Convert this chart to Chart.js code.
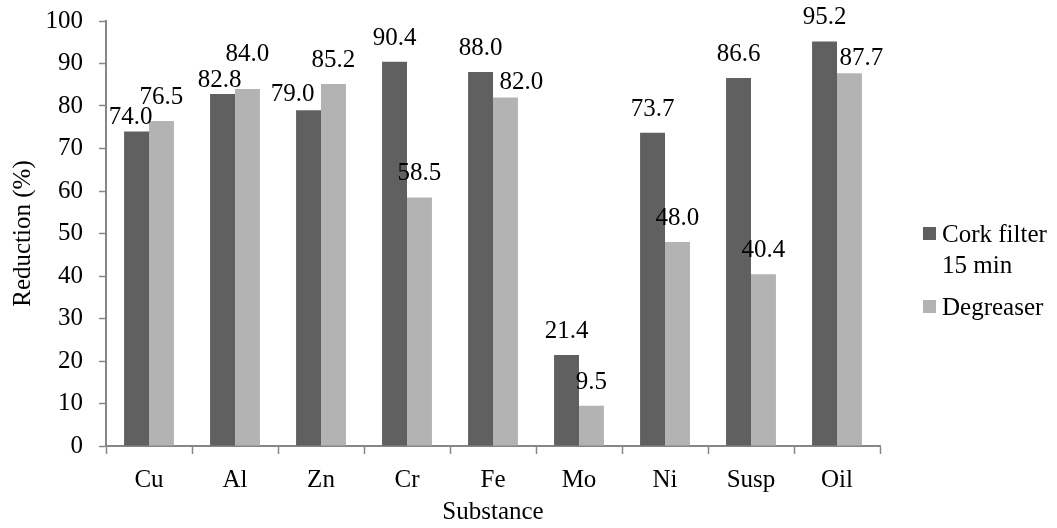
<!DOCTYPE html>
<html><head><meta charset="utf-8">
<script src="https://cdn.jsdelivr.net/npm/chart.js@4"></script>
<style>html,body{margin:0;padding:0;background:#fff}#wrap{width:1057px;height:528px}</style>
</head><body><div id="wrap"><canvas id="c" width="1057" height="528"></canvas></div>
<script>
const categories = ['Cu','Al','Zn','Cr','Fe','Mo','Ni','Susp','Oil'];
const corkFilter = [74.0,82.8,79.0,90.4,88.0,21.4,73.7,86.6,95.2];
const degreaser = [76.5,84.0,85.2,58.5,82.0,9.5,48.0,40.4,87.7];
const seriesNames = [['Cork filter','15 min'],['Degreaser']];
const yTicks = [0,10,20,30,40,50,60,70,80,90,100];

// manual label nudges (px) as in the reference, keyed "series:category"
const labelNudge = {
  '0:0':[-6,9], '0:1':[-3,10], '1:1':[0,-11], '0:2':[-16,8],
  '1:4':[16,8], '1:8':[12,9]
};

const FONT = "'Liberation Serif', 'Times New Roman', serif";
const FS = 25;
const DARK = '#606060', LIGHT = '#b3b3b3', AXIS = '#868686';

const valueLabels = {
  id:'valueLabels',
  afterDatasetsDraw(chart){
    const ctx = chart.ctx;
    ctx.save();
    ctx.font = FS + 'px ' + FONT;
    ctx.fillStyle = '#000';
    ctx.textAlign = 'center';
    ctx.textBaseline = 'alphabetic';
    chart.data.datasets.forEach((ds,i)=>{
      chart.getDatasetMeta(i).data.forEach((bar,j)=>{
        const n = labelNudge[i+':'+j] || [0,0];
        ctx.fillText(ds.data[j].toFixed(1), bar.x + n[0], bar.y - 17 + n[1]);
      });
    });
    ctx.restore();
  }
};

const customLegend = {
  id:'customLegend',
  afterDraw(chart){
    const ctx = chart.ctx;
    ctx.save();
    ctx.font = FS + 'px ' + FONT;
    ctx.textBaseline = 'alphabetic';
    ctx.textAlign = 'left';
    const x0 = 923, tx = 942;
    let base = 242;
    chart.data.datasets.forEach((ds,i)=>{
      ctx.fillStyle = ds.backgroundColor;
      ctx.fillRect(x0, base - 15, 13, 13);
      ctx.fillStyle = '#000';
      seriesNames[i].forEach((line,k)=>{
        ctx.fillText(line, tx, base + k*31);
      });
      base += seriesNames[i].length*31 + 11;
    });
    ctx.restore();
  }
};

new Chart(document.getElementById('c'), {
  type:'bar',
  data:{
    labels: categories,
    datasets:[
      {label:seriesNames[0].join(' '), data:corkFilter, backgroundColor:DARK, categoryPercentage:0.58, barPercentage:1},
      {label:seriesNames[1].join(' '), data:degreaser, backgroundColor:LIGHT, categoryPercentage:0.58, barPercentage:1}
    ]
  },
  options:{
    responsive:false,
    animation:false,
    devicePixelRatio:1,
    layout:{padding:{left:0,right:177,top:21,bottom:0}},
    plugins:{legend:{display:false},tooltip:{enabled:false}},
    scales:{
      x:{
        offset:true,
        grid:{offset:true,drawOnChartArea:false,color:AXIS,tickLength:8,tickWidth:1.5},
        border:{color:AXIS,width:2},
        ticks:{color:'#000',font:{family:FONT,size:FS},padding:11},
        title:{display:true,text:'Substance',color:'#000',font:{family:FONT,size:FS},padding:{top:4,bottom:1}},
        afterFit(s){s.height=82; s.paddingLeft=0; s.paddingRight=0;}
      },
      y:{
        min:0,max:100,
        afterBuildTicks(s){s.ticks = yTicks.map(v=>({value:v}));},
        grid:{drawOnChartArea:false,color:AXIS,tickLength:7,tickWidth:1.5},
        border:{color:AXIS,width:2},
        ticks:{color:'#000',font:{family:FONT,size:FS},padding:16},
        title:{display:true,text:'Reduction (%)',color:'#000',font:{family:FONT,size:FS},padding:{bottom:0,top:8}},
        afterFit(s){s.width=106; s.paddingTop=0; s.paddingBottom=0;}
      }
    }
  },
  plugins:[valueLabels,customLegend]
});
</script></body></html>
